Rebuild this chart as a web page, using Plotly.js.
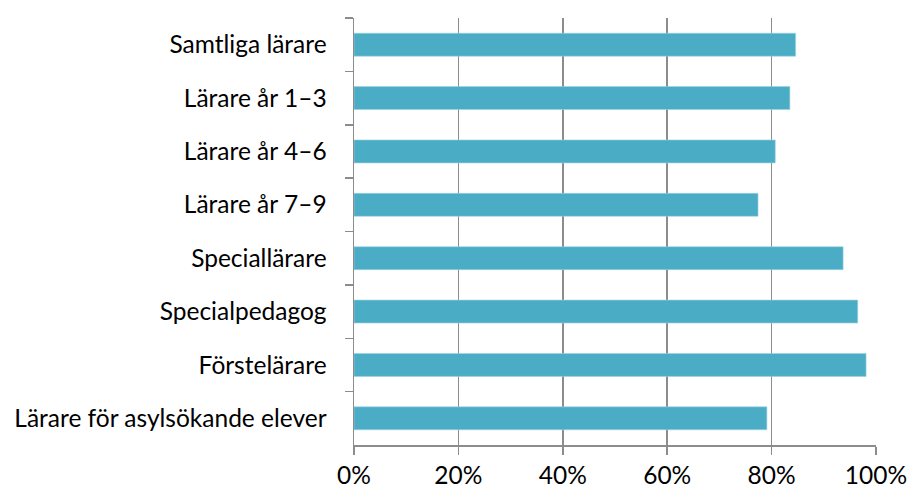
<!DOCTYPE html>
<html>
<head>
<meta charset="utf-8">
<script src="https://cdn.plot.ly/plotly-3.0.1.min.js"></script>
<style>html,body{margin:0;padding:0;background:#fff;}#chart{width:907px;height:492px;}</style>
</head>
<body>
<div id="chart"></div>
<script>
const categories = [
  "Samtliga lärare",
  "Lärare år 1–3",
  "Lärare år 4–6",
  "Lärare år 7–9",
  "Speciallärare",
  "Specialpedagog",
  "Förstelärare",
  "Lärare för asylsökande elever"
];
const values = [84.6, 83.5, 80.7, 77.4, 93.7, 96.5, 98.1, 79.1];
const xTickValues = [0, 20, 40, 60, 80, 100];
const xTickLabels = ["0%", "20%", "40%", "60%", "80%", "100%"];

const axisColor = "#8c8c8c";
const fontFamily = "Lato, 'Open Sans', sans-serif";
const fontSize = 24.5;

const data = [{
  type: "bar",
  orientation: "h",
  y: categories,
  x: values,
  marker: { color: "#4BACC6", line: { color: "#9fd3e0", width: 0.6 } },
  hoverinfo: "x+y"
}];

const layout = {
  width: 907,
  height: 492,
  margin: { l: 354, r: 31, t: 18, b: 47 },
  paper_bgcolor: "#ffffff",
  plot_bgcolor: "#ffffff",
  showlegend: false,
  bargap: 0.57,
  font: { family: fontFamily, size: fontSize, color: "#000000" },
  xaxis: {
    range: [0, 100],
    tickvals: xTickValues,
    ticktext: xTickLabels,
    ticklabeloverflow: "allow",
    showgrid: true,
    gridcolor: axisColor,
    gridwidth: 1.5,
    zeroline: false,
    showline: true,
    linecolor: axisColor,
    linewidth: 1.5,
    ticks: "outside",
    ticklen: 8,
    tickcolor: axisColor,
    tickwidth: 1.5,
    tickfont: { family: fontFamily, size: fontSize, color: "#000" },
    fixedrange: true
  },
  yaxis: {
    type: "category",
    categoryorder: "array",
    categoryarray: categories,
    autorange: "reversed",
    showgrid: false,
    zeroline: false,
    showline: true,
    linecolor: axisColor,
    linewidth: 1.5,
    ticks: "outside",
    tickson: "boundaries",
    ticklen: 8,
    tickcolor: axisColor,
    tickwidth: 1.5,
    ticklabelstandoff: 21,
    tickfont: { family: fontFamily, size: fontSize, color: "#000" },
    fixedrange: true
  }
};

Plotly.newPlot("chart", data, layout, { displayModeBar: false, staticPlot: true });
</script>
</body>
</html>
